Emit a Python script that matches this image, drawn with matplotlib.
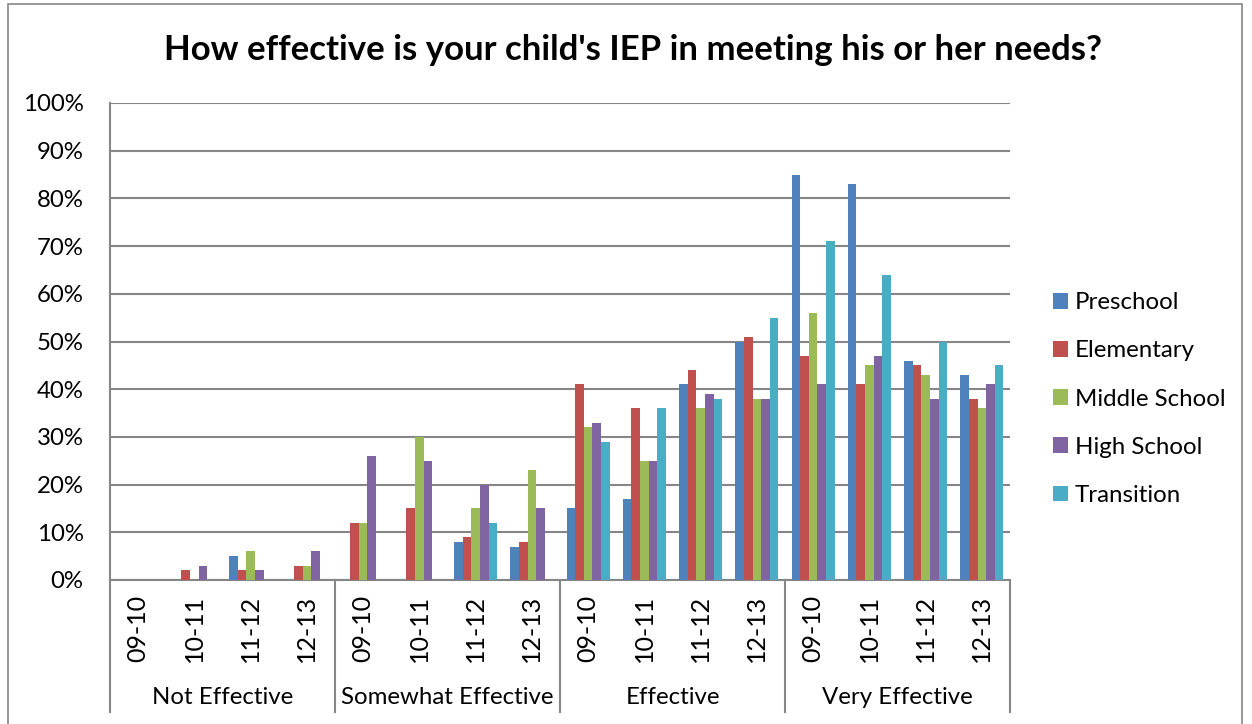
import matplotlib
matplotlib.use("Agg")
import matplotlib.pyplot as plt
import matplotlib.transforms as mtransforms
from matplotlib.patches import Rectangle
import numpy as np

plt.rcParams["font.family"] = ["Lato", "DejaVu Sans"]

TITLE = "How effective is your child's IEP in meeting his or her needs?"
GROUPS = ["Not Effective", "Somewhat Effective", "Effective", "Very Effective"]
YEARS = ["09-10", "10-11", "11-12", "12-13"]
SERIES = ["Preschool", "Elementary", "Middle School", "High School", "Transition"]
COLORS = ["#4F81BD", "#C0504D", "#9BBB59", "#8064A2", "#4BACC6"]

# percent, one list per series, 16 values = 4 groups x 4 years
preschool = [0, 0, 5, 0, 0, 0, 8, 7, 15, 17, 41, 50, 85, 83, 46, 43]
elementary = [0, 2, 2, 3, 12, 15, 9, 8, 41, 36, 44, 51, 47, 41, 45, 38]
middle = [0, 0, 6, 3, 12, 30, 15, 23, 32, 25, 36, 38, 56, 45, 43, 36]
high = [0, 3, 2, 6, 26, 25, 20, 15, 33, 25, 39, 38, 41, 47, 38, 41]
transition = [0, 0, 0, 0, 0, 0, 12, 0, 29, 36, 38, 55, 71, 64, 50, 45]
values = [preschool, elementary, middle, high, transition]

FS = 17.3

W, H = 1252, 724
fig = plt.figure(figsize=(W / 100, H / 100), dpi=100)
fig.patches.append(Rectangle((8 / W, -0.01), (1242 - 8) / W, 1 - 4 / H + 0.01,
                             transform=fig.transFigure, fill=False,
                             edgecolor="#868686", lw=1.2))

left, right, top, bottom = 110, 1010, 103, 580
ax = fig.add_axes([left / W, 1 - bottom / H, (right - left) / W, (bottom - top) / H])

n = len(GROUPS) * len(YEARS)
x = np.arange(n) + 0.5
bw = 0.153
for k, (name, vals, c) in enumerate(zip(SERIES, values, COLORS)):
    ax.bar(x + (k - 2) * bw, vals, width=bw, color=c, label=name, zorder=3,
           edgecolor="none")

ax.set_xlim(0, n)
ax.set_ylim(0, 100)
ax.set_yticks(range(0, 101, 10))
ax.set_yticklabels([f"{v}%" for v in range(0, 101, 10)], fontsize=FS)
ax.yaxis.grid(True, color="#868686", lw=1.5, zorder=0)
ax.tick_params(axis="y", length=0, pad=19)
for s in ["top", "right"]:
    ax.spines[s].set_visible(False)
for s in ["left", "bottom"]:
    ax.spines[s].set_color("#868686")
    ax.spines[s].set_linewidth(1.5)

# two-level category axis drawn by hand below the plot
ax.set_xticks([])
trans = mtransforms.blended_transform_factory(ax.transData, ax.transAxes)
ph = bottom - top
for i in range(n):
    ax.text(x[i], -(628 - bottom) / ph, YEARS[i % 4], rotation=90, transform=trans,
            ha="center", va="center", fontsize=18)
for g, name in enumerate(GROUPS):
    ax.text(g * 4 + 2, -(697 - bottom) / ph, name, transform=trans,
            ha="center", va="center", fontsize=FS)
for g in range(len(GROUPS) + 1):
    ax.plot([g * 4, g * 4], [0, -(712 - bottom) / ph], transform=trans,
            color="#868686", lw=1.5, clip_on=False)

ax.legend(loc="center left", bbox_to_anchor=(1053 / W, 1 - 399 / H),
          bbox_transform=fig.transFigure, frameon=False, fontsize=FS,
          handlelength=0.62, handleheight=0.62, handletextpad=0.3,
          labelspacing=1.13, borderaxespad=0, borderpad=0)

fig.text(0.5 * (165 + 1100) / W, 1 - 50 / H, TITLE, ha="center", va="center",
         fontsize=25, fontweight="bold")

fig.savefig("out.png", dpi=100)
